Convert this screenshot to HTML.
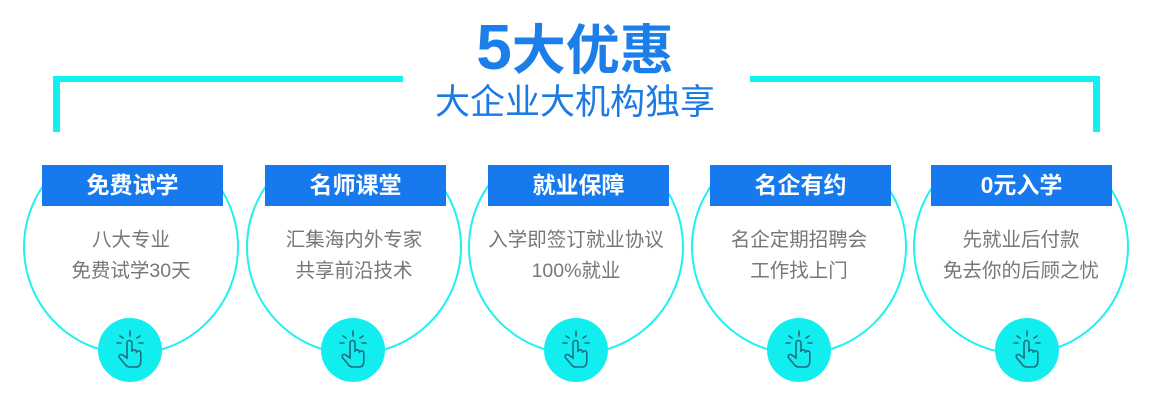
<!DOCTYPE html>
<html><head><meta charset="utf-8"><style>
body{margin:0;width:1153px;height:410px;background:#fff;position:relative;overflow:hidden;font-family:"Liberation Sans","Noto Sans CJK SC",sans-serif}
.a{position:absolute}
.box{position:absolute;top:165px;width:181px;height:41px;background:#1679ee;color:#fff;font-weight:bold;font-size:23px;text-align:center;line-height:41px}
.t{position:absolute;top:225px;width:240px;text-align:center;color:#777;font-size:19.5px;line-height:31px;white-space:nowrap}
</style></head><body>
<svg class="a" style="left:0;top:0" width="1153" height="410">
<defs>
<clipPath id="c"><rect x="0" y="180" width="1153" height="230"/></clipPath>
<g id="h">
<circle cx="0" cy="0" r="32" fill="#12eef0"/>
<g fill="none" stroke="#1a6e80" stroke-width="1.6" stroke-linecap="round">
<path d="M0 -19 v5 M-10 -14 l3 2 M10 -14 l-3 2 M-13 -7 h4 M13 -7 h-4"/>
<path d="M-3 8 v-15 a2.5 2.5 0 0 1 5 0 v9 a2.2 2.2 0 0 1 4.4 0 v1 a2.2 2.2 0 0 1 4.4 0 v8 q0 6 -5 6 h-6 q-3 0 -5 -3 l-5 -6 a2 2 0 0 1 3 -3 z"/>
</g></g>
</defs>
<g fill="none" stroke="#1ff0f2" stroke-width="2" clip-path="url(#c)">
<circle cx="131" cy="247" r="107"/><circle cx="354" cy="247" r="107"/><circle cx="576" cy="247" r="107"/><circle cx="799" cy="247" r="107"/><circle cx="1021" cy="247" r="107"/>
</g>
<g fill="#12f0f2">
<rect x="53" y="76" width="350" height="6"/><rect x="53" y="76" width="7" height="56"/>
<rect x="750" y="76" width="350" height="6"/><rect x="1093" y="76" width="7" height="56"/>
</g>
<use href="#h" x="130" y="350"/><use href="#h" x="353" y="350"/><use href="#h" x="576" y="350"/><use href="#h" x="799" y="350"/><use href="#h" x="1027" y="350"/>
</svg>
<div class="a" style="left:466px;top:14px;width:218px;text-align:center;color:#1c7fe9;font-weight:bold;font-size:54px;line-height:66px;white-space:nowrap"><span style="font-size:64px">5</span>大优惠</div>
<div class="a" style="left:420px;top:81px;width:310px;text-align:center;color:#1c7ae4;font-size:35px;line-height:44px;white-space:nowrap">大企业大机构独享</div>
<div class="box" style="left:42px">免费试学</div>
<div class="box" style="left:265px">名师课堂</div>
<div class="box" style="left:488px">就业保障</div>
<div class="box" style="left:710px">名企有约</div>
<div class="box" style="left:931px">0元入学</div>
<div class="t" style="left:11px">八大专业<br>免费试学30天</div>
<div class="t" style="left:234px">汇集海内外专家<br>共享前沿技术</div>
<div class="t" style="left:456px">入学即签订就业协议<br>100%就业</div>
<div class="t" style="left:679px">名企定期招聘会<br>工作找上门</div>
<div class="t" style="left:901px">先就业后付款<br>免去你的后顾之忧</div>
</body></html>
